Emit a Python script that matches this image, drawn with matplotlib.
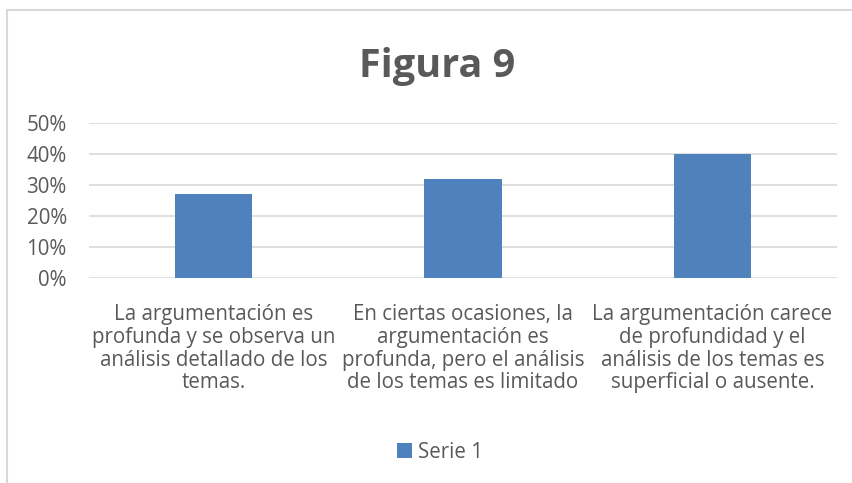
import matplotlib.pyplot as plt
from matplotlib.patches import Rectangle
from matplotlib.ticker import PercentFormatter

# Data
categories = [
    "La argumentación es\nprofunda y se observa un\nanálisis detallado de los\ntemas.",
    "En ciertas ocasiones, la\nargumentación es\nprofunda, pero el análisis\nde los temas es limitado",
    "La argumentación carece\nde profundidad y el\nanálisis de los temas es\nsuperficial o ausente.",
]
values = [0.27, 0.32, 0.40]
y_ticks = [0.0, 0.1, 0.2, 0.3, 0.4, 0.5]

text_color = '#595959'
grid_color = '#d9d9d9'
bar_color = '#4f81bd'

plt.rcParams['font.family'] = ['Open Sans', 'DejaVu Sans']

W, H = 852, 483
fig = plt.figure(figsize=(W / 100, H / 100), dpi=100)

# Chart frame (light border, running off the right/bottom edge)
fig.patches.append(Rectangle((7 / W, -0.1), 1.2, (H - 10) / H + 0.1,
                             transform=fig.transFigure, fill=False,
                             edgecolor=grid_color, linewidth=1.5))

ax = fig.add_axes([89 / W, (H - 278) / H, 748 / W, 155 / H])
x = range(len(categories))
ax.bar(x, values, width=0.31, color=bar_color, label='Serie 1', zorder=3)

ax.set_xlim(-0.5, 2.5)
ax.set_ylim(0, 0.5)
ax.set_yticks(y_ticks)
ax.yaxis.set_major_formatter(PercentFormatter(1.0, decimals=0))
ax.set_xticks(list(x))
ax.set_xticklabels(categories, linespacing=1.12)

ax.grid(axis='y', color=grid_color, linewidth=1.2, zorder=0)
for s in ax.spines.values():
    s.set_visible(False)
ax.tick_params(axis='both', length=0, colors=text_color, labelsize=14.8)
ax.tick_params(axis='y', pad=16)
ax.tick_params(axis='x', pad=18.5)

fig.text(437 / W, 1 - 77 / H, 'Figura 9', ha='center', va='baseline',
         fontsize=28.5, fontweight='bold', color=text_color)

fig.legend(loc='center', bbox_to_anchor=(440 / W, 1 - 452 / H), frameon=False,
           fontsize=14.8, labelcolor=text_color, handlelength=0.7, handleheight=0.7,
           handletextpad=0.3)

fig.savefig('out.png', dpi=100)
